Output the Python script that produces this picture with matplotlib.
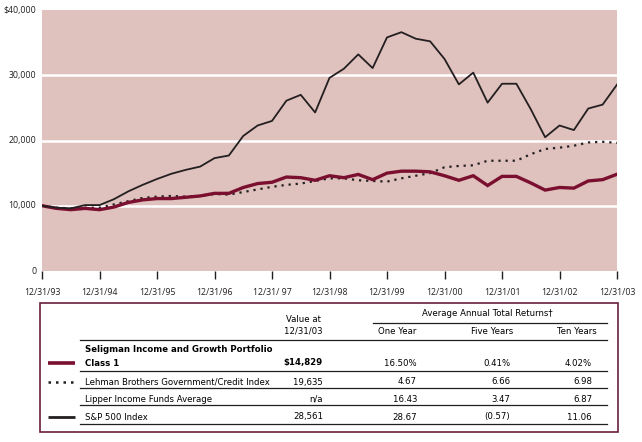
import matplotlib
matplotlib.use("Agg")
from matplotlib import pyplot as plt

# quarterly values of a $10,000 investment, 12/31/93 .. 12/31/03
quarters = list(range(41))
seligman = [10000, 9600, 9400, 9600, 9400, 9800, 10500, 10900, 11100, 11100,
            11300, 11500, 11900, 11900, 12800, 13400, 13600, 14400, 14300, 13900,
            14600, 14300, 14800, 14000, 15000, 15300, 15300, 15200, 14600, 13900,
            14600, 13100, 14500, 14500, 13500, 12400, 12800, 12700, 13800, 14000,
            14829]
lehman = [10000, 9700, 9600, 9700, 9700, 10200, 10700, 11200, 11400, 11500,
          11400, 11500, 11800, 11700, 12100, 12500, 12900, 13200, 13400, 13800,
          14200, 14200, 13900, 13800, 13700, 14200, 14600, 15000, 15900, 16100,
          16200, 16900, 16900, 16900, 17900, 18700, 18900, 19200, 19700, 19800,
          19635]
sp500 = [10000, 9700, 9600, 10100, 10100, 11000, 12200, 13200, 14100, 14900,
         15500, 16000, 17300, 17700, 20700, 22300, 23000, 26100, 27000, 24300,
         29600, 31000, 33200, 31100, 35800, 36600, 35600, 35200, 32500, 28600,
         30400, 25800, 28700, 28700, 24800, 20500, 22300, 21600, 24900, 25500,
         28561]

year_labels = ["12/31/93", "12/31/94", "12/31/95", "12/31/96", "12/31/ 97", "12/31/98",
               "12/31/99", "12/31/00", "12/31/01", "12/31/02", "12/31/03"]
y_ticks = [0, 10000, 20000, 30000, 40000]
y_labels = ["0", "10,000", "20,000", "30,000", "$40,000"]

# table
row_names = [["Seligman Income and Growth Portfolio", "Class 1"],
             ["Lehman Brothers Government/Credit Index"],
             ["Lipper Income Funds Average"],
             ["S&P 500 Index"]]
value_at = ["$14,829", "19,635", "n/a", "28,561"]
one_year = ["16.50%", "4.67", "16.43", "28.67"]
five_years = ["0.41%", "6.66", "3.47", "(0.57)"]
ten_years = ["4.02%", "6.98", "6.87", "11.06"]

PINK = "#dfc1bd"
MAROON = "#7a0f2f"
DARK = "#231f20"
BORDER = "#6a1f3c"

W, H = 642, 442
fig = plt.figure(figsize=(W / 100, H / 100), dpi=100)

ax = fig.add_axes([42 / W, 1 - 271 / H, 575 / W, 261 / H])
ax.set_facecolor(PINK)
for s in ax.spines.values():
    s.set_visible(False)
for yv in y_ticks[1:-1]:
    ax.axhline(yv, color="white", lw=1.8, zorder=1)

ax.plot(quarters, lehman, color=DARK, lw=1.6, linestyle=(0, (1.0, 2.2)), zorder=2)
ax.plot(quarters, seligman, color=MAROON, lw=2.4, zorder=3, solid_joinstyle="miter")
ax.plot(quarters, sp500, color=DARK, lw=1.3, zorder=4)

ax.set_xlim(0, 40)
ax.set_ylim(0, 40000)
ax.set_xticks(quarters[::4])
ax.set_xticklabels(year_labels, fontsize=6.3, family="Open Sans", color=DARK)
ax.set_yticks(y_ticks)
ax.set_yticklabels(y_labels, fontsize=6.3, family="Open Sans", color=DARK)
ax.tick_params(axis="x", direction="out", length=6, width=1, color=DARK, pad=6)
ax.tick_params(axis="y", length=0, pad=4)
for lab in ax.get_yticklabels():
    lab.set_verticalalignment("center")

# table area drawn in pixel coordinates
tx = fig.add_axes([0, 0, 1, 1], facecolor="none")
tx.set_xlim(0, W)
tx.set_ylim(H, 0)
tx.axis("off")

narrow = dict(family=["DejaVu Sans"], fontstretch="condensed", fontsize=6.8)

tx.add_patch(plt.Rectangle((40, 303), 578, 129, fill=False, edgecolor=BORDER, lw=1.2))

tx.text(303, 320, "Value at", ha="center", va="center", **narrow)
tx.text(303, 331, "12/31/03", ha="center", va="center", **narrow)
tx.text(487, 313, "Average Annual Total Returns\u2020", ha="center", va="center", **narrow)
tx.plot([373, 607], [323, 323], color=DARK, lw=0.9)
for label, cx in zip(["One Year", "Five Years", "Ten Years"], [397, 492, 577]):
    tx.text(cx, 332, label, ha="center", va="center", **narrow)

line_tops = [340, 371, 388, 405, 424]
for yy in line_tops:
    tx.plot([80, 607], [yy, yy], color=DARK, lw=0.9)

text_y = [363, 382, 399, 417]
for i, names in enumerate(row_names):
    weight = "bold" if i == 0 else "normal"
    if len(names) == 2:
        tx.text(85, text_y[i] - 13, names[0], ha="left", va="center", weight=weight, **narrow)
        tx.text(85, text_y[i], names[1], ha="left", va="center", weight=weight, **narrow)
    else:
        tx.text(85, text_y[i], names[0], ha="left", va="center", **narrow)
    tx.text(323, text_y[i], value_at[i], ha="right", va="center", weight=weight, **narrow)
    tx.text(417, text_y[i], one_year[i], ha="right", va="center", **narrow)
    tx.text(510, text_y[i], five_years[i], ha="right", va="center", **narrow)
    tx.text(592, text_y[i], ten_years[i], ha="right", va="center", **narrow)

# legend samples
tx.plot([48, 75], [text_y[0], text_y[0]], color=MAROON, lw=2.6, solid_capstyle="butt")
tx.plot([48, 75], [text_y[1], text_y[1]], color=DARK, lw=1.8, linestyle=(0, (1.0, 2.0)))
tx.plot([48, 75], [text_y[3], text_y[3]], color=DARK, lw=2.0, solid_capstyle="butt")

fig.savefig("out.png", dpi=100)
